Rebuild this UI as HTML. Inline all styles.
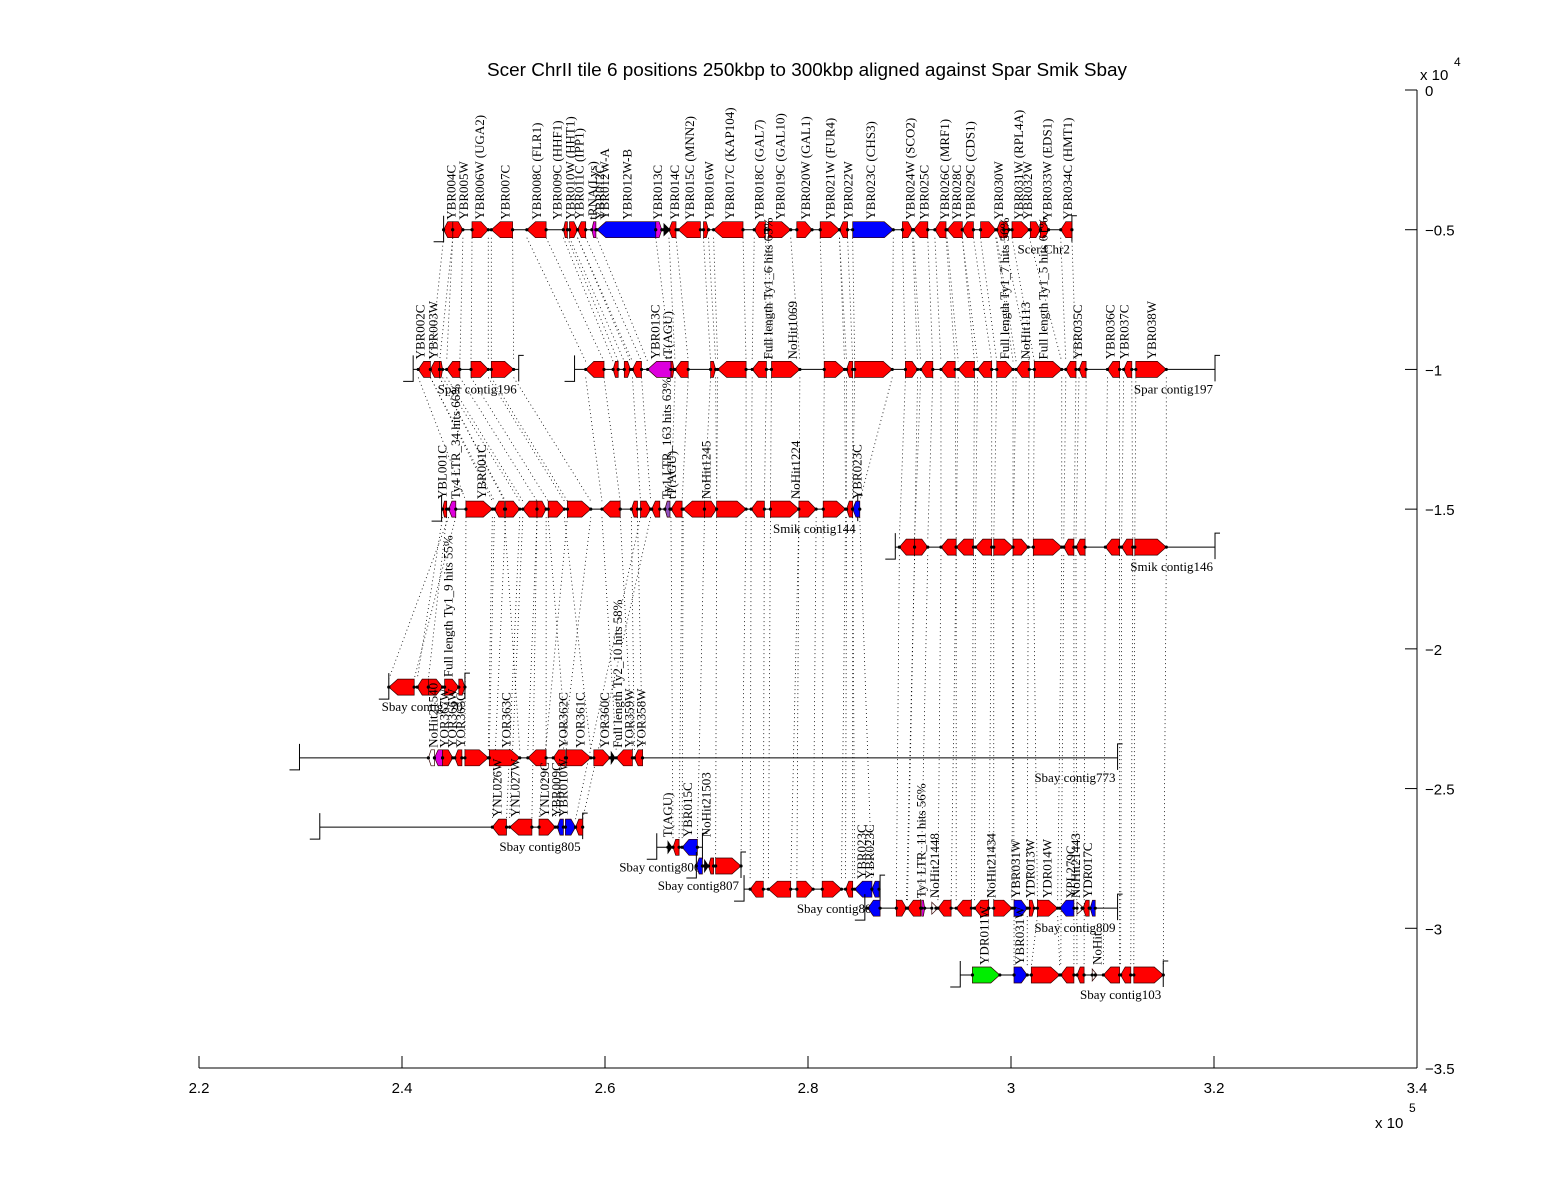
<!DOCTYPE html>
<html><head><meta charset="utf-8"><title>Scer ChrII tile 6 alignment</title>
<style>
html,body{margin:0;padding:0;background:#fff;}
svg{display:block;}
text{font-family:"Liberation Sans",sans-serif;}
.lbl{font-family:"Liberation Serif",serif;font-size:13px;}
</style></head>
<body>
<svg id="chart" width="1568" height="1200" viewBox="0 0 1568 1200" xmlns="http://www.w3.org/2000/svg">
<rect width="1568" height="1200" fill="#fff"/>
<text x="487" y="76" textLength="640" lengthAdjust="spacingAndGlyphs" font-size="18">Scer ChrII tile 6 positions 250kbp to 300kbp aligned against Spar Smik Sbay</text>
<g id="links"></g>
<g id="tracks"></g>
<g id="labels"></g>
<g id="axes"></g>
</svg>
<script>
// ---- axis data ----
const xTicks = [220, 240, 260, 280, 300, 320, 340];           // kbp
const xTickLabels = ["2.2","2.4","2.6","2.8","3","3.2","3.4"];
const yTicks = [0, -0.5, -1, -1.5, -2, -2.5, -3, -3.5];        // x 10^4
const yTickLabels = ["0","\u22120.5","\u22121","\u22121.5","\u22122","\u22122.5","\u22123","\u22123.5"];

// ---- track data ----
const trackNames = ["Scer Chr2","Spar contig196","Spar contig197","Smik contig144","Smik contig146","Sbay contig770","Sbay contig773","Sbay contig805","Sbay contig806","Sbay contig807","Sbay contig808","Sbay contig809","Sbay contig103"];
const trackY = [-0.5,-1.0,-1.0,-1.5,-1.636,-2.137,-2.39,-2.638,-2.71,-2.777,-2.86,-2.928,-3.167];
const trackStart = [244.1,241.1,257.0,243.9,288.6,238.7,229.9,231.9,265.1,269.0,273.7,285.6,295.0];
const trackEnd = [306.0,251.5,320.1,284.9,320.1,246.2,310.5,257.8,269.6,273.4,287.1,310.5,315.0];

// genes: [startKbp, endKbp, strand, colour]
const scerGenes = [[244.1,245.0,-1,'r'],[245.0,246.0,1,'r'],[246.9,248.5,1,'r'],[248.8,250.9,-1,'r'],[252.3,254.2,-1,'r'],[255.9,256.3,-1,'r'],[256.5,257.3,1,'r'],[257.3,258.1,-1,'r'],[258.7,259.1,-1,'m'],[259.2,265.0,-1,'b'],[265.0,265.6,1,'m'],[265.8,266.2,0,'k'],[266.3,267.0,-1,'r'],[267.2,269.4,-1,'r'],[269.7,270.2,1,'r'],[270.7,273.6,-1,'r'],[274.7,275.8,-1,'r'],[276.1,278.3,1,'r'],[278.9,280.4,1,'r'],[281.2,283.1,1,'r'],[283.1,283.9,-1,'r'],[284.4,288.4,1,'b'],[289.3,290.3,1,'r'],[290.4,291.8,-1,'r'],[292.5,293.6,-1,'r'],[293.7,295.2,-1,'r'],[295.2,296.3,-1,'r'],[297.0,298.5,1,'r'],[298.6,299.3,-1,'r'],[299.3,299.8,1,'r'],[300.1,301.8,1,'r'],[301.9,302.9,1,'r'],[302.9,303.7,1,'r'],[304.9,306.0,-1,'r']];
const spar196Genes = [[241.6,242.8,-1,'r'],[242.8,243.7,-1,'r'],[243.7,244.0,1,'r'],[244.4,245.7,-1,'r'],[246.8,248.5,1,'r'],[248.8,251.0,1,'r']];
const spar197Genes = [[258.1,259.9,-1,'r'],[260.8,261.3,-1,'r'],[261.9,262.5,1,'r'],[262.7,263.6,-1,'r'],[264.2,266.5,-1,'m'],[266.5,266.8,1,'r'],[266.9,268.2,-1,'r'],[270.4,270.9,1,'r'],[271.1,273.9,-1,'r'],[274.5,275.9,-1,'r'],[276.4,279.2,1,'r'],[281.6,283.6,1,'r'],[283.8,284.4,-1,'r'],[284.6,288.3,1,'r'],[289.6,290.8,1,'r'],[291.1,292.3,-1,'r'],[293.1,294.5,-1,'r'],[294.8,296.4,-1,'r'],[296.7,298.1,-1,'r'],[298.6,300.2,1,'r'],[300.5,301.8,-1,'r'],[302.3,305.0,1,'r'],[305.4,306.4,-1,'r'],[306.7,307.4,-1,'r'],[309.5,310.7,-1,'r'],[311.1,311.9,-1,'r'],[312.3,315.3,1,'r']];
const smik144Genes = [[244.0,244.4,-1,'r'],[244.6,245.3,-1,'m'],[246.3,248.9,1,'r'],[249.1,250.1,-1,'r'],[250.2,251.6,1,'r'],[251.9,253.3,-1,'r'],[253.3,254.2,1,'r'],[254.4,256.0,1,'r'],[256.3,258.6,1,'r'],[259.7,261.5,-1,'r'],[262.6,263.2,-1,'r'],[263.5,264.5,1,'r'],[264.6,265.4,-1,'r'],[265.9,266.4,-1,'p'],[266.5,267.6,-1,'r'],[267.7,269.8,-1,'r'],[269.8,271.0,1,'r'],[271.0,273.9,1,'r'],[274.4,275.7,-1,'r'],[276.3,279.1,1,'r'],[279.1,280.8,1,'r'],[281.5,283.7,1,'r'],[283.8,284.4,-1,'r'],[284.4,285.1,-1,'b']];
const smik146Genes = [[289.0,290.5,-1,'r'],[290.5,291.8,1,'r'],[293.1,294.6,-1,'r'],[294.6,296.3,-1,'r'],[296.5,298.1,-1,'r'],[298.3,300.2,1,'r'],[300.2,301.7,1,'r'],[302.2,305.0,1,'r'],[305.2,306.2,-1,'r'],[306.4,307.3,-1,'r'],[309.3,310.7,-1,'r'],[310.9,312.0,-1,'r'],[312.2,315.3,1,'r']];
const sbay770Genes = [[238.7,241.2,-1,'r'],[241.5,242.6,-1,'r'],[242.6,244.0,1,'r'],[244.2,245.6,1,'r'],[245.6,246.2,1,'r']];
const sbay773Genes = [[242.6,243.2,-1,'w'],[243.2,244.0,-1,'m'],[244.0,245.0,1,'r'],[245.2,245.9,-1,'r'],[246.2,248.5,1,'r'],[248.6,251.6,1,'r'],[252.4,254.2,-1,'r'],[254.9,256.1,-1,'r'],[256.2,258.6,1,'r'],[258.9,260.5,1,'r'],[260.6,260.8,0,'k'],[261.1,262.7,-1,'r'],[262.9,263.7,-1,'r']];
const sbay805Genes = [[248.9,250.3,-1,'r'],[250.6,252.8,-1,'r'],[253.5,255.1,1,'r'],[255.3,255.9,-1,'b'],[256.1,257.1,1,'b'],[257.1,257.8,-1,'r']];
const sbay806Genes = [[266.2,266.4,0,'k'],[266.7,267.3,-1,'r'],[267.6,269.1,-1,'b']];
const sbay807Genes = [[269.0,269.6,-1,'b'],[269.8,270.0,0,'k'],[270.2,270.7,-1,'r'],[270.9,273.4,1,'r']];
const sbay808Genes = [[274.3,275.6,-1,'r'],[276.1,278.3,-1,'r'],[278.9,280.5,1,'r'],[281.4,283.3,1,'r'],[283.7,284.4,-1,'r'],[284.6,286.3,-1,'b'],[286.3,287.0,-1,'b']];
const sbay809Genes = [[285.9,287.1,-1,'b'],[288.7,289.7,1,'r'],[289.8,291.1,-1,'r'],[291.2,291.5,1,'m'],[292.2,292.6,0,'w'],[292.8,294.1,-1,'r'],[294.6,296.1,-1,'r'],[296.4,297.8,-1,'r'],[298.3,300.1,1,'r'],[300.3,301.6,1,'b'],[301.8,302.3,1,'r'],[302.6,304.6,1,'r'],[304.8,306.2,-1,'b'],[306.5,307.0,0,'w'],[307.1,307.7,-1,'r'],[307.8,308.3,-1,'b']];
const sbay103Genes = [[296.2,298.9,1,'g'],[300.3,301.6,1,'b'],[302.0,304.8,1,'r'],[304.9,306.2,-1,'r'],[306.5,307.2,-1,'r'],[308.0,308.3,0,'w'],[309.1,310.7,-1,'r'],[310.8,311.8,-1,'r'],[312.1,315.0,1,'r']];
const trackGenes = [scerGenes,spar196Genes,spar197Genes,smik144Genes,smik146Genes,sbay770Genes,sbay773Genes,sbay805Genes,sbay806Genes,sbay807Genes,sbay808Genes,sbay809Genes,sbay103Genes];

// links: [srcTrack, srcGene, dstTrack, dstGene]
const geneLinks = [
[0,0,1,1],[0,1,1,3],[0,2,1,4],[0,3,1,5],[0,4,2,0],[0,5,2,1],[0,6,2,2],[0,7,2,3],[0,9,2,4],[0,12,2,6],[0,14,2,7],[0,15,2,8],[0,16,2,9],[0,17,2,10],[0,19,2,11],[0,20,2,12],[0,21,2,13],[0,22,2,14],[0,23,2,15],[0,24,2,16],[0,25,2,17],[0,26,2,18],[0,27,2,19],[0,28,2,20],[0,30,2,21],[0,33,2,22],
[1,0,3,2],[1,1,3,3],[1,2,3,4],[1,3,3,5],[1,4,3,7],[1,5,3,8],
[2,0,3,9],[2,3,3,11],[2,6,3,14],[2,7,3,16],[2,8,3,17],[2,9,3,18],[2,10,3,19],[2,11,3,21],[2,12,3,22],[2,13,3,23],
[2,14,4,0],[2,15,4,1],[2,16,4,2],[2,17,4,3],[2,18,4,4],[2,19,4,5],[2,20,4,6],[2,21,4,7],[2,22,4,8],[2,23,4,9],[2,24,4,10],[2,25,4,11],[2,26,4,12],
[3,0,5,1],[3,1,5,0],[3,2,6,4],[3,3,6,5],[3,4,7,0],[3,5,7,1],[3,6,6,6],[3,7,6,8],[3,8,7,2],[3,9,6,11],[3,10,6,12],[3,11,7,5],[3,14,8,1],[3,15,8,2],[3,17,9,3],[3,18,10,0],[3,19,10,1],[3,20,10,2],[3,21,10,3],[3,22,10,4],[3,23,10,5],
[4,0,11,1],[4,1,11,2],[4,2,11,5],[4,3,11,6],[4,4,11,7],[4,5,11,8],[4,6,11,9],[4,7,11,11],[4,8,12,3],[4,9,12,4],[4,10,12,6],[4,11,12,7],[4,12,12,8],
[11,9,12,1],[11,11,12,2]];

// rotated gene labels: [trackIndex, text, kbp]
const geneLabels = [
[0,"YBR004C",244.9],[0,"YBR005W",246.1],[0,"YBR006W (UGA2)",247.7],[0,"YBR007C",250.2],[0,"YBR008C (FLR1)",253.3],[0,"YBR009C (HHF1)",255.3],[0,"YBR010W (HHT1)",256.6],[0,"YBR011C (IPP1)",257.5],[0,"tRNA(Lys)",258.8],[0,"YBR012C",259.5],[0,"YBR012W-A",260.0],[0,"YBR012W-B",262.2],[0,"YBR013C",265.2],[0,"YBR014C",266.9],[0,"YBR015C (MNN2)",268.4],[0,"YBR016W",270.3],[0,"YBR017C (KAP104)",272.3],[0,"YBR018C (GAL7)",275.2],[0,"YBR019C (GAL10)",277.3],[0,"YBR020W (GAL1)",279.8],[0,"YBR021W (FUR4)",282.2],[0,"YBR022W",284.0],[0,"YBR023C (CHS3)",286.2],[0,"YBR024W (SCO2)",290.1],[0,"YBR025C",291.5],[0,"YBR026C (MRF1)",293.5],[0,"YBR028C",294.7],[0,"YBR029C (CDS1)",296.0],[0,"YBR030W",298.8],[0,"YBR031W (RPL4A)",300.8],[0,"YBR032W",301.7],[0,"YBR033W (EDS1)",303.6],[0,"YBR034C (HMT1)",305.6],
[1,"YBR002C",241.8],[1,"YBR003W",243.1],
[2,"YBR013C",265.0],[2,"tT(AGU)",266.2],[2,"Full length Ty1_6 hits 65%",276.1],[2,"NoHit1069",278.5],[2,"Full length Ty1_7 hits 56%",299.4],[2,"NoHit1113",301.5],[2,"Full length Ty1_5 hits 61%",303.2],[2,"YBR035C",306.6],[2,"YBR036C",309.8],[2,"YBR037C",311.2],[2,"YBR038W",313.9],
[3,"YBL001C",244.0],[3,"Ty4 LTR_34 hits 66%",245.3],[3,"YBR001C",247.9],[3,"Ty1 LTR_163 hits 63%",266.1],[3,"tT(AGU)",266.6],[3,"NoHit1245",270.0],[3,"NoHit1224",278.8],[3,"YBR023C",284.9],
[5,"Full length Ty1_9 hits 55%",244.6],
[6,"NoHit21540",243.1],[6,"YOR367W",244.2],[6,"YOR366W",245.0],[6,"YOR365C",245.8],[6,"YOR363C",250.3],[6,"YOR362C",255.9],[6,"YOR361C",257.6],[6,"YOR360C",260.0],[6,"Full length Ty2_10 hits 58%",261.3],[6,"YOR359W",262.4],[6,"YOR358W",263.6],
[7,"YNL026W",249.4],[7,"YNL027W",251.2],[7,"YNL029C",254.1],[7,"YBR009C",255.2],[7,"YBR010W",255.9],
[8,"T(AGU)",266.2],[8,"YBR015C",268.2],[8,"NoHit21503",270.0],
[10,"YBR023C",285.3],[10,"YBR023C",286.1],
[11,"Ty1 LTR_11 hits 56%",291.2],[11,"NoHit21448",292.5],[11,"NoHit21434",298.1],[11,"YBR031W",300.5],[11,"YDR013W",301.9],[11,"YDR014W",303.6],[11,"YPL279C",305.9],[11,"NoHit21443",306.4],[11,"YDR017C",307.6],
[12,"YDR011W",297.4],[12,"YBR031W",300.9],[12,"NoHit",308.5]];

// ---- axis functions ----
const X0 = 199, X1 = 1417, XMIN = 220, XMAX = 340;
const Y0 = 90, Y1 = 1068, YMAX = 0, YMIN = -3.5;
function X(k){ return X0 + (k - XMIN) / (XMAX - XMIN) * (X1 - X0); }
function Y(v){ return Y0 + (YMAX - v) / (YMAX - YMIN) * (Y1 - Y0); }

const NS = "http://www.w3.org/2000/svg";
function mk(tag, attrs, parent){
  const el = document.createElementNS(NS, tag);
  for (const k in attrs) el.setAttribute(k, attrs[k]);
  parent.appendChild(el);
  return el;
}
const COLORS = {r:'#ff0000', b:'#0000ff', m:'#dd00dd', g:'#00ee00', w:'#ffffff', p:'#9050c0', k:'#000000'};

// ---- links ----
const gL = document.getElementById('links');
geneLinks.forEach(function(l){
  const sg = trackGenes[l[0]][l[1]], dg = trackGenes[l[2]][l[3]];
  if (!sg || !dg) return;
  const ys = Y(trackY[l[0]]) + 8, yd = Y(trackY[l[2]]) - 8;
  [0,1].forEach(function(j){
    const ln = mk('line', {x1:X(sg[j]), y1:ys, x2:X(dg[j]), y2:yd, stroke:'#000', 'stroke-width':0.8, 'stroke-dasharray':'1,3'}, gL);
    
    
  });
});

// ---- tracks ----
const gT = document.getElementById('tracks');
trackNames.forEach(function(name, t){
  const yc = Y(trackY[t]), xs = X(trackStart[t]), xe = X(trackEnd[t]);
  const g = mk('g', {}, gT);
  
  
  mk('line', {x1:xs, y1:yc, x2:xe, y2:yc, stroke:'#000', 'stroke-width':1}, g);
  mk('polyline', {points:(xs)+','+(yc-14)+' '+xs+','+(yc+12)+' '+(xs-10)+','+(yc+12), fill:'none', stroke:'#000', 'stroke-width':1}, g);
  mk('polyline', {points:(xe+5)+','+(yc-14)+' '+xe+','+(yc-14)+' '+xe+','+(yc+12), fill:'none', stroke:'#000', 'stroke-width':1}, g);
  trackGenes[t].forEach(function(gn){
    const x1 = X(gn[0]), x2 = X(gn[1]), w = x2 - x1, h = 8;
    const p = Math.min(9, w * 0.45);
    let pts;
    if (gn[2] === 1) pts = [[x1,yc-h],[x2-p,yc-h],[x2,yc],[x2-p,yc+h],[x1,yc+h]];
    else if (gn[2] === -1) pts = [[x1,yc],[x1+p,yc-h],[x2,yc-h],[x2,yc+h],[x1+p,yc+h]];
    else pts = [[x1,yc-6],[x2+2,yc],[x1,yc+6]];
    const poly = mk('polygon', {points:pts.map(function(q){return q[0].toFixed(1)+','+q[1].toFixed(1);}).join(' '), fill:COLORS[gn[3]], stroke: gn[3]==='k' ? '#000' : '#300', 'stroke-width':0.7}, g);
    
    
    mk('circle', {cx:x1, cy:yc, r:1.6, fill:'#000'}, g);
    mk('circle', {cx:x2, cy:yc, r:1.6, fill:'#000'}, g);
  });
  const tl = mk('text', {x:xe - 2, y:yc + 24, 'text-anchor':'end', class:'lbl'}, g);
  tl.textContent = name;
  
  
});

// ---- gene labels ----
const gLab = document.getElementById('labels');
geneLabels.forEach(function(l){
  const x = X(l[2]) + 4, y = Y(trackY[l[0]]) - 10;
  const tx = mk('text', {x:x, y:y, transform:'rotate(-90 '+x+' '+y+')', class:'lbl'}, gLab);
  tx.textContent = l[1];
  
  
});

// ---- axes ----
const gA = document.getElementById('axes');
mk('line', {x1:X0, y1:Y1, x2:X1, y2:Y1, stroke:'#000', 'stroke-width':1}, gA);
mk('line', {x1:X1, y1:Y0, x2:X1, y2:Y1, stroke:'#000', 'stroke-width':1}, gA);
xTicks.forEach(function(v, i){
  const x = X(v);
  mk('line', {x1:x, y1:Y1, x2:x, y2:Y1-12, stroke:'#000', 'stroke-width':1}, gA);
  const t = mk('text', {x:x, y:Y1+25, 'text-anchor':'middle', 'font-size':15}, gA);
  t.textContent = xTickLabels[i];
  
  
});
yTicks.forEach(function(v, i){
  const y = Y(v);
  mk('line', {x1:X1, y1:y, x2:X1-12, y2:y, stroke:'#000', 'stroke-width':1}, gA);
  const t = mk('text', {x:X1+8, y:y+6, 'font-size':15}, gA);
  t.textContent = yTickLabels[i];
  
  
});
const ye = mk('text', {x:1420, y:80, 'font-size':15}, gA);
ye.textContent = 'x 10';


const ys4 = mk('text', {x:1454, y:66, 'font-size':12}, gA);
ys4.textContent = '4';


const xe5 = mk('text', {x:1375, y:1128, 'font-size':15}, gA);
xe5.textContent = 'x 10';


const xs5 = mk('text', {x:1409, y:1112, 'font-size':12}, gA);
xs5.textContent = '5';


</script>
</body></html>
